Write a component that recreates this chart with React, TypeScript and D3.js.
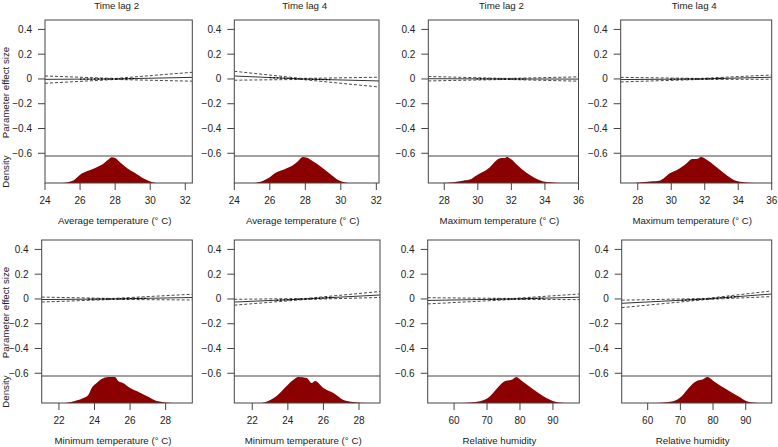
import React from "react";
import * as d3 from "d3";

// ---------- data ----------
const colTitles = ["Time lag 2", "Time lag 4", "Time lag 2", "Time lag 4"];
const xTitles = [
  "Average temperature (° C)", "Average temperature (° C)", "Maximum temperature (° C)", "Maximum temperature (° C)",
  "Minimum temperature (° C)", "Minimum temperature (° C)", "Relative humidity", "Relative humidity",
];
const xDomains: [number, number][] = [
  [24, 32.4], [24, 32.15], [27.05, 36.0], [26.98, 36.0],
  [21.03, 29.5], [20.99, 29.18], [52, 98], [52.05, 97.95],
];
const xTicks: number[][] = [
  [24, 26, 28, 30, 32], [24, 26, 28, 30, 32], [28, 30, 32, 34, 36], [28, 30, 32, 34, 36],
  [22, 24, 26, 28], [22, 24, 26, 28], [60, 70, 80, 90], [60, 70, 80, 90],
];
const yTicks = [0.4, 0.2, 0, -0.2, -0.4, -0.6];
const yDomain: [number, number] = [-0.84, 0.476];

// effect lines: x at left edge, centre, right edge
const lineX: number[][] = [
  [24, 28, 32.4], [24, 27.8, 32.15], [27.05, 31.7, 36], [26.98, 31.7, 36],
  [21.03, 25, 29.5], [20.99, 25, 29.18], [52, 78, 98], [52.05, 78, 97.95],
];
const fitVals: number[][] = [
  [-0.003, 0, 0.013], [0.024, 0, -0.016], [0.002, 0, -0.001], [-0.005, 0, 0.014],
  [-0.005, 0, 0.012], [-0.025, 0, 0.032], [-0.012, 0, 0.014], [-0.035, 0, 0.04],
];
const upperVals: number[][] = [
  [0.024, 0.004, 0.054], [0.062, 0.004, 0.014], [0.02, 0.004, 0.017], [0.013, 0.004, 0.032],
  [0.015, 0.004, 0.038], [-0.003, 0.004, 0.06], [0.01, 0.004, 0.04], [-0.01, 0.004, 0.065],
];
const lowerVals: number[][] = [
  [-0.035, -0.004, -0.018], [-0.01, -0.004, -0.065], [-0.016, -0.004, -0.018], [-0.024, -0.004, -0.002],
  [-0.025, -0.004, -0.008], [-0.05, -0.004, 0.012], [-0.04, -0.004, -0.005], [-0.07, -0.004, 0.019],
];

// density of observations (relative)
const densX: number[][] = [
  [24.95, 25.62, 26.0, 26.38, 26.86, 27.33, 27.62, 27.81, 28.0, 28.29, 28.67, 29.14, 29.62, 30.0, 30.38],
  [25.1, 25.6, 26.0, 26.3, 26.8, 27.3, 27.6, 27.85, 28.1, 28.4, 28.9, 29.4, 29.9, 30.5],
  [27.85, 28.53, 29.12, 29.52, 29.92, 30.31, 30.7, 31.1, 31.4, 31.6, 31.73, 31.99, 32.38, 32.88, 33.37, 33.86, 34.35, 34.95],
  [27.74, 28.74, 29.34, 29.94, 30.34, 30.94, 31.24, 31.54, 31.78, 32.14, 32.54, 33.14, 33.74, 34.24, 35.04],
  [22.34, 22.9, 23.37, 23.65, 23.84, 24.12, 24.4, 24.77, 25.15, 25.33, 25.6, 26.0, 26.37, 26.93, 27.5, 28.42],
  [22.53, 22.9, 23.37, 23.93, 24.3, 24.59, 25.06, 25.34, 25.53, 26.0, 26.56, 27.12, 27.68, 28.43],
  [62.3, 67.9, 70.9, 73, 75.5, 77.5, 78.85, 80.6, 84.1, 87.1, 90.2, 93.7],
  [62.5, 67.8, 70.4, 72.4, 75, 76.5, 78.35, 80.1, 84.2, 87.7, 90.3, 93.8],
];
const densY: number[][] = [
  [0, 0.1, 0.32, 0.45, 0.58, 0.74, 0.9, 0.99, 0.96, 0.79, 0.58, 0.38, 0.17, 0.06, 0],
  [0, 0.08, 0.22, 0.38, 0.52, 0.68, 0.85, 1.0, 0.97, 0.85, 0.62, 0.35, 0.1, 0],
  [0, 0.03, 0.09, 0.13, 0.29, 0.43, 0.6, 0.87, 0.96, 0.96, 1.0, 0.91, 0.67, 0.4, 0.2, 0.07, 0.03, 0],
  [0, 0.06, 0.1, 0.38, 0.5, 0.77, 0.92, 0.92, 1.0, 0.88, 0.69, 0.38, 0.12, 0.04, 0],
  [0, 0.08, 0.19, 0.31, 0.58, 0.77, 0.92, 1.0, 1.0, 0.85, 0.77, 0.58, 0.46, 0.27, 0.08, 0],
  [0, 0.08, 0.27, 0.65, 0.88, 1.0, 0.96, 0.77, 0.85, 0.58, 0.38, 0.12, 0.04, 0],
  [0, 0.07, 0.26, 0.56, 0.85, 0.89, 1.0, 0.85, 0.52, 0.26, 0.07, 0],
  [0, 0.07, 0.26, 0.56, 0.85, 0.89, 1.0, 0.85, 0.52, 0.26, 0.07, 0],
];

// ---------- layout ----------
const panelLeft = [45, 234.3, 428.3, 620.7, 41.7, 234.3, 427.7, 621.7];
const panelRight = [192.3, 379, 578.5, 771.7, 192.3, 380, 579.3, 771.7];
const rowTop = [20, 240];
const rowBottom = [183, 403];
const rowSep = [156, 376];

const FONT = "'Liberation Sans', Arial, Helvetica, sans-serif";
const INK = "#222";
const BOX = "#444";
const TICK_FS = 10;
const LAB_FS = 9.7;

function Panel({ i }: { i: number }) {
  const row = Math.floor(i / 4);
  const col = i % 4;
  const L = panelLeft[i], R = panelRight[i];
  const T = rowTop[row], B = rowBottom[row], S = rowSep[row];
  const x = d3.scaleLinear().domain(xDomains[i]).range([L, R]);
  const y = d3.scaleLinear().domain(yDomain).range([B, T]);
  const yd = d3.scaleLinear().domain([0, 1]).range([B, S + 1]);

  const line = d3.line<[number, number]>().x((d) => x(d[0])).y((d) => y(d[1]));
  const pts = (vals: number[]) => lineX[i].map((xx, k) => [xx, vals[k]] as [number, number]);
  const area = d3
    .area<[number, number]>()
    .x((d) => x(d[0]))
    .y0(B)
    .y1((d) => yd(d[1]))
    .curve(d3.curveMonotoneX);
  const dens = densX[i].map((xx, k) => [xx, densY[i][k]] as [number, number]);

  // range of dense observations drawn as points along the fit
  const dense = dens.filter((d) => d[1] > 0.2).map((d) => d[0]);
  const dLo = d3.min(dense) as number, dHi = d3.max(dense) as number;
  const fitInterp = d3.scaleLinear().domain(lineX[i]).range(fitVals[i]);
  const ptsDense: [number, number][] = [[dLo, fitInterp(dLo)], [lineX[i][1], 0], [dHi, fitInterp(dHi)]];
  ptsDense.sort((a, b) => a[0] - b[0]);

  const clipId = `clip${i}`;
  const cx = (L + R) / 2;
  return (
    <g>
      <defs>
        <clipPath id={clipId}>
          <rect x={L} y={T} width={R - L} height={B - T} />
        </clipPath>
      </defs>
      <g clipPath={`url(#${clipId})`}>
        <path d={area(dens) || ""} fill="#8b0000" />
        <path d={line(pts(upperVals[i])) || ""} fill="none" stroke="#333" strokeWidth={0.9} strokeDasharray="3,2" />
        <path d={line(pts(lowerVals[i])) || ""} fill="none" stroke="#333" strokeWidth={0.9} strokeDasharray="3,2" />
        <path d={line(pts(fitVals[i])) || ""} fill="none" stroke="#333" strokeWidth={1} />
        <path d={line(ptsDense) || ""} fill="none" stroke="#000" strokeWidth={1.4} strokeDasharray="1.5,2" />
      </g>
      <line x1={L} x2={R} y1={S} y2={S} stroke={BOX} strokeWidth={1} />
      <rect x={L} y={T} width={R - L} height={B - T} fill="none" stroke={BOX} strokeWidth={1} />
      {yTicks.map((t) => (
        <g key={t}>
          <line x1={L - 7} x2={L} y1={y(t)} y2={y(t)} stroke={BOX} />
          <text x={L - 13} y={y(t)} dy="0.35em" textAnchor="end" fontSize={TICK_FS} fill={INK} fontFamily={FONT}>
            {t === 0 ? "0" : d3.format(".1f")(t)}
          </text>
        </g>
      ))}
      {xTicks[i].map((t) => (
        <g key={t}>
          <line x1={x(t)} x2={x(t)} y1={B} y2={B + 7} stroke={BOX} />
          <text x={x(t)} y={B + 20.5} textAnchor="middle" fontSize={TICK_FS} fill={INK} fontFamily={FONT}>
            {t}
          </text>
        </g>
      ))}
      <text x={cx - 4} y={B + 40.5} textAnchor="middle" fontSize={LAB_FS} fill={INK} fontFamily={FONT}>
        {xTitles[i]}
      </text>
      {row === 0 && (
        <text x={cx - 2} y={9} textAnchor="middle" fontSize={LAB_FS} fill={INK} fontFamily={FONT}>
          {colTitles[col]}
        </text>
      )}
      {col === 0 && (
        <>
          <text
            transform={`translate(8.5,${(T + S) / 2 + 4.5}) rotate(-90)`}
            textAnchor="middle"
            fontSize={LAB_FS}
            fill={INK}
            fontFamily={FONT}
          >
            Parameter effect size
          </text>
          <text
            transform={`translate(8.5,${(S + B) / 2 + 2}) rotate(-90)`}
            textAnchor="middle"
            fontSize={LAB_FS}
            fill={INK}
            fontFamily={FONT}
          >
            Density
          </text>
        </>
      )}
    </g>
  );
}

export default function App() {
  return (
    <div style={{ position: "absolute", left: 0, top: 0 }}>
      <svg width={778} height={447} style={{ display: "block", background: "#fff" }}>
        {d3.range(8).map((i) => (
          <Panel key={i} i={i} />
        ))}
      </svg>
    </div>
  );
}
